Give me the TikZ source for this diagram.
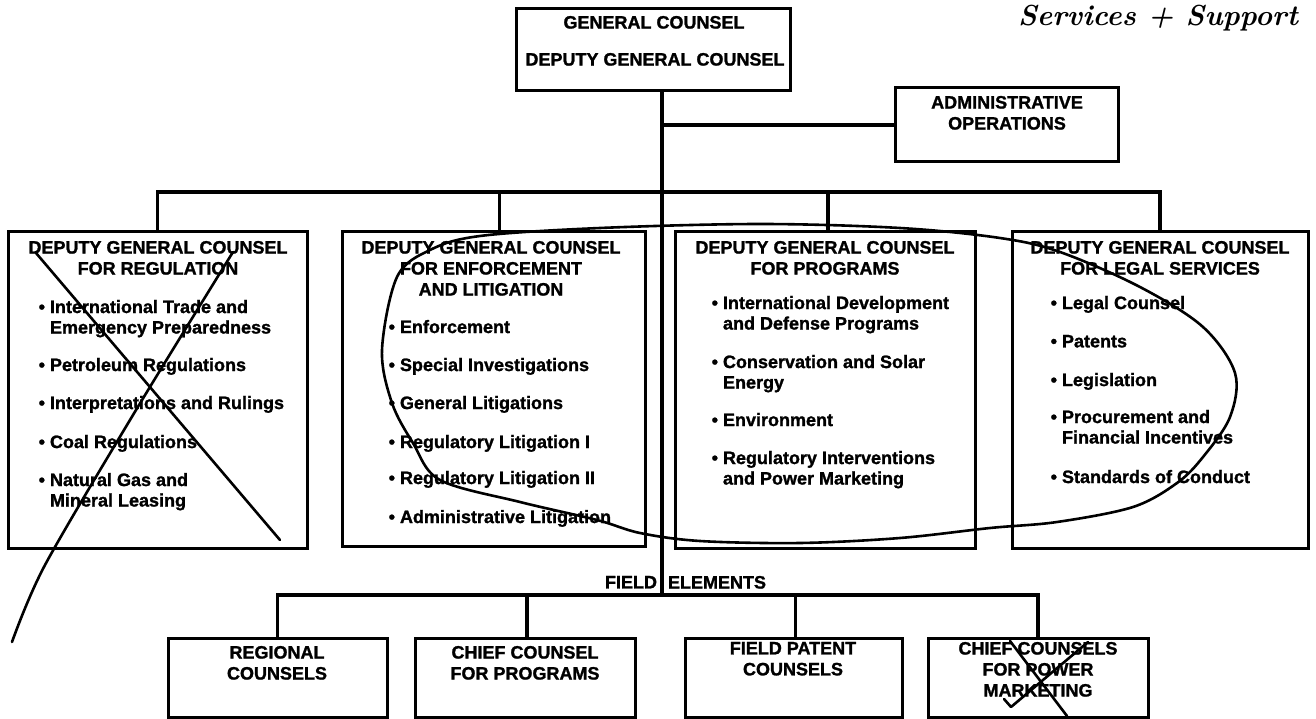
\documentclass[tikz,border=0pt]{standalone}
\usepackage{fontspec}
\newfontfamily\hv{Liberation Sans}[BoldFeatures={FakeBold=1.3}]
\begin{document}
\begin{tikzpicture}[x=1pt,y=-1pt,
  every node/.style={inner sep=0pt, outer sep=0pt},
  frame/.style={draw, line width=3pt, anchor=north west},
  conn/.style={line width=3.2pt},
  ttl/.style={font=\hv\bfseries\fontsize{18}{21}\selectfont, align=center, anchor=north},
  itm/.style={font=\hv\bfseries\fontsize{18}{20.5}\selectfont, align=left, anchor=north west},
  pen/.style={line width=2.6pt, line cap=round, line join=round}]
\useasboundingbox (0,0) rectangle (1316,719);

% --- top of the chart
\node[frame, minimum width=274pt, minimum height=82pt] (gc) at (516,9) {};
\node[ttl] (gc1) at (654,16) {GENERAL COUNSEL};
\node[ttl] (gc2) at (655,53) {DEPUTY GENERAL COUNSEL};

\node[frame, minimum width=223pt, minimum height=74pt] (ad) at (895,88) {};
\node[ttl] (ad1) at (1007,96) {ADMINISTRATIVE\\OPERATIONS};

% --- deputy general counsels
\node[frame, minimum width=299pt, minimum height=316pt] (d1) at (8,232) {};
\node[frame, minimum width=303pt, minimum height=314pt] (d2) at (342,232) {};
\node[frame, minimum width=300pt, minimum height=316pt] (d3) at (675,232) {};
\node[frame, minimum width=296pt, minimum height=316pt] (d4) at (1012,232) {};

\node[ttl] (d1t) at (158,241) {DEPUTY GENERAL COUNSEL\\FOR REGULATION};
\node[ttl] (d2t) at (491,241) {DEPUTY GENERAL COUNSEL\\FOR ENFORCEMENT\\AND LITIGATION};
\node[ttl] (d3t) at (825,241) {DEPUTY GENERAL COUNSEL\\FOR PROGRAMS};
\node[ttl] (d4t) at (1160,241) {DEPUTY GENERAL COUNSEL\\FOR LEGAL SERVICES};

\newcommand\bul{\llap{\textbullet\hspace{5pt}}}
% regulation
\node[itm] (r1) at (50,300) {\bul International Trade and\\Emergency Preparedness};
\node[itm] (r2) at (50,358) {\bul Petroleum Regulations};
\node[itm] (r3) at (50,396) {\bul Interpretations and Rulings};
\node[itm] (r4) at (50,435) {\bul Coal Regulations};
\node[itm] (r5) at (50,473) {\bul Natural Gas and\\Mineral Leasing};
% enforcement and litigation
\node[itm] (e1) at (400,320) {\bul Enforcement};
\node[itm] (e2) at (400,358) {\bul Special Investigations};
\node[itm] (e3) at (400,396) {\bul General Litigations};
\node[itm] (e4) at (400,435) {\bul Regulatory Litigation I};
\node[itm] (e5) at (400,471) {\bul Regulatory Litigation II};
\node[itm] (e6) at (400,510) {\bul Administrative Litigation};
% programs
\node[itm] (p1) at (723,296) {\bul International Development\\and Defense Programs};
\node[itm] (p2) at (723,355) {\bul Conservation and Solar\\Energy};
\node[itm] (p3) at (723,413) {\bul Environment};
\node[itm] (p4) at (723,451) {\bul Regulatory Interventions\\and Power Marketing};
% legal services
\node[itm] (l1) at (1062,296) {\bul Legal Counsel};
\node[itm] (l2) at (1062,335) {\bul Patents};
\node[itm] (l3) at (1062,373) {\bul Legislation};
\node[itm] (l4) at (1062,410) {\bul Procurement and\\Financial Incentives};
\node[itm] (l5) at (1062,470) {\bul Standards of Conduct};

% --- field elements
\node[frame, minimum width=219pt, minimum height=79pt] (f1) at (168,638) {};
\node[frame, minimum width=220pt, minimum height=79pt] (f2) at (415,638) {};
\node[frame, minimum width=217pt, minimum height=79pt] (f3) at (685,638) {};
\node[frame, minimum width=220pt, minimum height=79pt] (f4) at (928,638) {};
\node[ttl] (f1t) at (277,646) {REGIONAL\\COUNSELS};
\node[ttl] (f2t) at (525,646) {CHIEF COUNSEL\\FOR PROGRAMS};
\node[ttl] (f3t) at (793,642) {FIELD PATENT\\COUNSELS};
\node[ttl] (f4t) at (1038,642) {CHIEF COUNSELS\\FOR POWER\\MARKETING};

\node[ttl, anchor=north east] (fl1) at (657,576) {FIELD};
\node[ttl, anchor=north west] (fl2) at (668,576) {ELEMENTS};

% --- connectors
\coordinate (tt) at ([xshift=146pt]gc.south west);
\coordinate (ta) at (tt |- ad.west);
\coordinate (bus) at (662,192);
\coordinate (fe) at (662,595);
\draw[conn] (tt) -- (fe);
\draw[conn] (ta) -- (ad.west);
\draw[conn] (d1.north) -- (d1.north |- bus) -- (d4.north |- bus) -- (d4.north);
\draw[conn] ([xshift=6pt]d2.north) -- ([xshift=6pt]d2.north |- bus);
\draw[conn] ([xshift=3pt]d3.north) -- ([xshift=3pt]d3.north |- bus);
\draw[conn] (f1.north) -- (f1.north |- fe) -- (f4.north |- fe) -- (f4.north);
\draw[conn] ([xshift=2pt]f2.north) -- ([xshift=2pt]f2.north |- fe);
\draw[conn] ([xshift=2pt]f3.north) -- ([xshift=2pt]f3.north |- fe);

% --- pen marks
\node[font=\bfseries\itshape\fontsize{29}{29}\selectfont, anchor=base] (note) at (1158,26) {Services + Support};
\draw[pen] (36,253) -- (280,540);
\draw[pen] plot[smooth, tension=0.5] coordinates {(233,252) (136,410) (45,565) (12,642)};
\draw[pen] plot[smooth cycle, tension=0.55] coordinates {
  (382,350) (397,277) (430,250) (480,236) (600,228) (760,224) (900,228)
  (1000,238) (1060,252) (1140,287) (1203,327) (1235,373) (1230,417)
  (1203,457) (1177,483) (1133,507) (1057,522) (990,528) (900,538)
  (800,543) (700,541) (640,533) (597,520) (520,502) (440,480)
  (413,443) (392,403)};
\draw[pen] (1010,641) -- (1067,716);
\draw[pen] (1004,699) -- (1011,707) -- (1088,642);
\end{tikzpicture}
\end{document}
